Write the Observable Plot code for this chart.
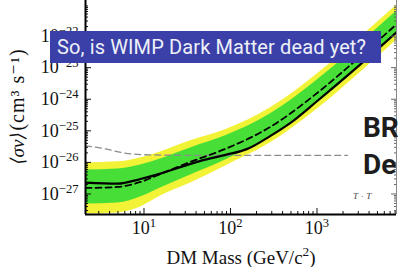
<!DOCTYPE html>
<html><head><meta charset="utf-8">
<script src="https://cdn.jsdelivr.net/npm/d3@7"></script>
<script src="https://cdn.jsdelivr.net/npm/@observablehq/plot@0.6"></script>
<style>
html,body{margin:0;padding:0;background:#fff;}
#wrap{position:relative;width:400px;height:267px;overflow:hidden;background:#fff;}
#wrap svg{position:absolute;left:0;top:0;}
#banner{position:absolute;left:50px;top:31px;width:324px;height:32px;padding-left:7px;background:#3a40a8;color:#eef0f8;font:20px Roboto,sans-serif;letter-spacing:0.12px;line-height:32px;white-space:nowrap;}
.side{position:absolute;left:363px;font:bold 28px Roboto,sans-serif;color:#1d1d1d;line-height:28px;white-space:nowrap;}
#tt{position:absolute;left:353px;top:191px;font:italic 9px "Liberation Serif",serif;color:#444;letter-spacing:3px;}
</style></head><body><div id="wrap"></div>
<script>
// ---- data ----
const xDomain = [2.108, 8300];
const yDomain = [2.24e-28, 1.34e-21];

const bandMass  = [2.108, 4.94, 9.11, 15.5, 34.5, 87.5, 290, 1014, 2786, 8750];
const expected  = [1.55e-27, 1.67e-27, 2.40e-27, 4.31e-27, 1.04e-26, 2.68e-26, 1.34e-25, 1.61e-24, 1.67e-23, 2.69e-22];
const green1Hi  = [5.78e-27, 6.22e-27, 8.34e-27, 1.29e-26, 2.88e-26, 6.94e-26, 3.47e-25, 4.16e-24, 4.31e-23, 6.94e-22];
const green1Lo  = [4.82e-28, 5.18e-28, 8.04e-28, 1.55e-27, 4.01e-27, 1.20e-26, 6.45e-26, 7.74e-25, 8.04e-24, 1.29e-22];
const yellow2Hi = [9.64e-27, 1.04e-26, 1.39e-26, 2.15e-26, 4.82e-26, 1.08e-25, 5.37e-25, 6.45e-24, 6.69e-23, 1.08e-21];
const yellow2Lo = [2.32e-28, 2.49e-28, 3.86e-28, 8.64e-28, 2.24e-27, 7.74e-27, 4.16e-26, 4.99e-25, 5.18e-24, 8.34e-23];

const obsMass   = [2.108, 4.94, 9.11, 15.5, 34.5, 45.0, 87.5, 157, 290, 494, 1014, 2786, 8750];
const observed  = [2.29e-27, 2.12e-27, 2.99e-27, 4.41e-27, 8.96e-27, 1.12e-26, 1.73e-26, 2.68e-26, 6.94e-26, 1.79e-25, 8.95e-25, 9.29e-24, 1.50e-22];

const thermalMass = [2.108, 3.59, 5.80, 11.9, 45.0, 2254];
const thermal     = [3.34e-26, 2.68e-26, 2.00e-26, 1.73e-26, 1.67e-26, 1.67e-26];

const xMajor = [10, 100, 1000];
const xTickLabels = ["10^{1}", "10^{2}", "10^{3}"];
const yMajor = [1e-27, 1e-26, 1e-25, 1e-24, 1e-23, 1e-22];
const yTickLabels = ["10^{−27}", "10^{−26}", "10^{−25}", "10^{−24}", "10^{−23}", "10^{−22}"];
const minorSteps = [2, 3, 4, 5, 6, 7, 8, 9];
const xDecades = [1, 10, 100, 1000];
const yDecades = [1e-28, 1e-27, 1e-26, 1e-25, 1e-24, 1e-23, 1e-22];

const xLabel = "DM Mass (GeV/c^{2})";
const yLabelQty = "⟨σv⟩";
const yLabelUnit = "(cm³ s⁻¹)";

// ---- build tables ----
const band = bandMass.map((m, i) => ({m, exp: expected[i], g1: green1Lo[i], g2: green1Hi[i], y1: yellow2Lo[i], y2: yellow2Hi[i]}));
const obs = obsMass.map((m, i) => ({m, v: observed[i]}));
const relic = thermalMass.map((m, i) => ({m, v: thermal[i]}));
const xMinor = xDecades.flatMap(d => minorSteps.map(s => s * d)).filter(v => v > xDomain[0] && v < xDomain[1]);
const yMinor = yDecades.flatMap(d => minorSteps.map(s => s * d)).filter(v => v > yDomain[0] && v < yDomain[1]);
const xFmt = new Map(xMajor.map((v, i) => [v, xTickLabels[i]]));
const yFmt = new Map(yMajor.map((v, i) => [v, yTickLabels[i]]));
const blank = () => "";

const svg = Plot.plot({
  width: 400, height: 267,
  marginLeft: 85, marginRight: 4, marginTop: 0, marginBottom: 53,
  x: {type: "log", domain: xDomain},
  y: {type: "log", domain: yDomain},
  style: {fontFamily: "'Liberation Serif', 'DejaVu Serif', serif", fontSize: "18px", background: "transparent", color: "#111"},
  marks: [
    Plot.areaY(band, {x: "m", y1: "y1", y2: "y2", fill: "#f2f236", curve: "monotone-x", clip: true}),
    Plot.areaY(band, {x: "m", y1: "g1", y2: "g2", fill: "#48de38", curve: "monotone-x", clip: true}),
    Plot.lineY(relic, {x: "m", y: "v", stroke: "#8c8c8c", strokeWidth: 1.3, strokeDasharray: "6,4", curve: "monotone-x", clip: true}),
    Plot.lineY(obs, {x: "m", y: "v", stroke: "#000", strokeWidth: 2.2, curve: "monotone-x", clip: true}),
    Plot.lineY(band, {x: "m", y: "exp", stroke: "#000", strokeWidth: 1.8, strokeDasharray: "6,4", curve: "monotone-x", clip: true}),
    // axes
    Plot.axisY(yMajor, {anchor: "left", tickSize: 0, tickPadding: 7, tickFormat: d => yFmt.get(d), fontSize: 18, label: null}),
    Plot.axisY(yMajor, {anchor: "left", tickSize: -6, tickFormat: blank, label: null}),
    Plot.axisY(yMinor, {anchor: "left", tickSize: -3, tickFormat: blank, label: null}),
    Plot.axisY(yMajor, {anchor: "right", tickSize: -6, tickFormat: blank, label: null, stroke: "#666"}),
    Plot.axisY(yMinor, {anchor: "right", tickSize: -3, tickFormat: blank, label: null, stroke: "#666"}),
    Plot.axisX(xMajor, {anchor: "bottom", tickSize: 0, tickPadding: 7, tickFormat: d => xFmt.get(d), fontSize: 18, label: null}),
    Plot.axisX(xMajor, {anchor: "bottom", tickSize: -6, tickFormat: blank, label: null}),
    Plot.axisX(xMinor, {anchor: "bottom", tickSize: -3, tickFormat: blank, label: null}),
    Plot.ruleX([xDomain[0]], {stroke: "#000", strokeWidth: 2}),
    Plot.ruleY([yDomain[0]], {stroke: "#000", strokeWidth: 2}),
    Plot.ruleX([xDomain[1]], {stroke: "#888", strokeWidth: 1}),
    Plot.text([xLabel], {frameAnchor: "bottom", lineAnchor: "middle", textAnchor: "middle", dy: 43, fontSize: 19, fill: "#111"}),
    Plot.text([yLabelQty], {frameAnchor: "left", lineAnchor: "middle", textAnchor: "middle", rotate: -90, dx: -68, dy: 41, fontSize: 19, fontStyle: "italic", fill: "#111"}),
    Plot.text([yLabelUnit], {frameAnchor: "left", lineAnchor: "middle", textAnchor: "middle", rotate: -90, dx: -68, dy: -18, fontSize: 20, fill: "#111"})
  ]
});

function richify(el) {
  const s = el.textContent;
  if (!/\^\{/.test(s)) return;
  let base = parseFloat(el.getAttribute("font-size") || (el.parentNode && el.parentNode.getAttribute("font-size")) || 18);
  if (!base || isNaN(base)) base = 18;
  el.textContent = "";
  const re = /\^\{([^}]*)\}/g;
  let last = 0, m, raised = false;
  const add = (txt, sup) => {
    const t = document.createElementNS("http://www.w3.org/2000/svg", "tspan");
    t.textContent = txt;
    if (sup) {
      t.setAttribute("font-size", (base * 0.7).toFixed(1));
      if (!raised) t.setAttribute("dy", (-base * 0.38).toFixed(1));
      raised = true;
    } else if (raised) { t.setAttribute("dy", (base * 0.38).toFixed(1)); raised = false; }
    el.appendChild(t);
  };
  while ((m = re.exec(s))) {
    if (m.index > last) add(s.slice(last, m.index), false);
    add(m[1], true);
    last = re.lastIndex;
  }
  if (last < s.length) add(s.slice(last), false);
}
svg.querySelectorAll("text").forEach(el => {
  richify(el);
  if (el.textContent === yLabelUnit) el.setAttribute("letter-spacing", "1");
});

const wrap = document.getElementById("wrap");
wrap.appendChild(svg);

const banner = document.createElement("div");
banner.id = "banner";
banner.textContent = "So, is WIMP Dark Matter dead yet?";
wrap.appendChild(banner);

[["BR", 114], ["De", 151]].forEach(([t, top]) => {
  const d = document.createElement("div");
  d.className = "side"; d.style.top = top + "px"; d.textContent = t;
  wrap.appendChild(d);
});
const tt = document.createElement("div");
tt.id = "tt"; tt.textContent = "T·T";
wrap.appendChild(tt);
</script></body></html>
